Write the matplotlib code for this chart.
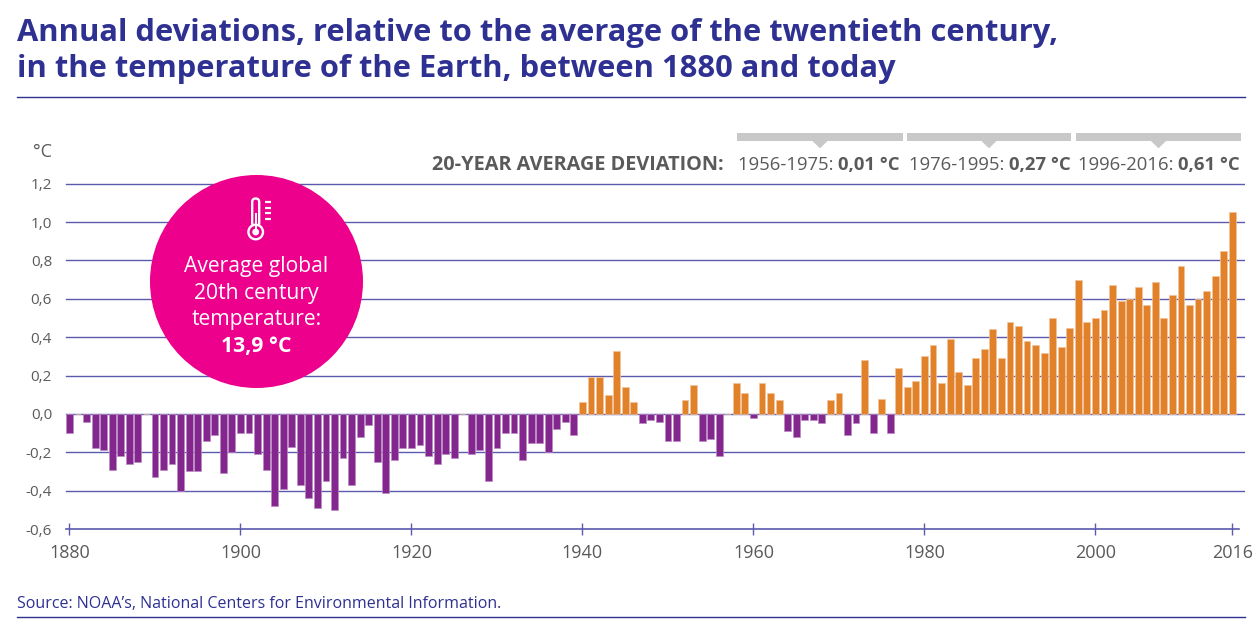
import numpy as np
import matplotlib
matplotlib.use("Agg")
import matplotlib.pyplot as plt
from matplotlib.patches import Circle, Rectangle, Polygon, FancyBboxPatch

plt.rcParams["font.family"] = ["Open Sans", "DejaVu Sans"]

# datos: desviación anual (ºC) respecto a la media del siglo XX
years = list(range(1880, 2017))
dev_1880s = [-0.10, 0.00, -0.04, -0.18, -0.19, -0.29, -0.22, -0.26, -0.25, 0.00]
dev_1890s = [-0.33, -0.29, -0.26, -0.40, -0.30, -0.30, -0.14, -0.11, -0.31, -0.20]
dev_1900s = [-0.10, -0.10, -0.21, -0.29, -0.48, -0.39, -0.17, -0.37, -0.44, -0.49]
dev_1910s = [-0.35, -0.50, -0.23, -0.37, -0.12, -0.06, -0.25, -0.41, -0.24, -0.18]
dev_1920s = [-0.18, -0.16, -0.22, -0.26, -0.21, -0.23, 0.00, -0.21, -0.19, -0.35]
dev_1930s = [-0.18, -0.10, -0.10, -0.24, -0.15, -0.15, -0.20, -0.08, -0.04, -0.11]
dev_1940s = [0.06, 0.19, 0.19, 0.10, 0.33, 0.14, 0.06, -0.05, -0.03, -0.04]
dev_1950s = [-0.14, -0.14, 0.07, 0.15, -0.14, -0.13, -0.22, 0.00, 0.16, 0.11]
dev_1960s = [-0.02, 0.16, 0.11, 0.07, -0.09, -0.12, -0.03, -0.03, -0.05, 0.07]
dev_1970s = [0.11, -0.11, -0.05, 0.28, -0.10, 0.08, -0.10, 0.24, 0.14, 0.17]
dev_1980s = [0.30, 0.36, 0.16, 0.39, 0.22, 0.15, 0.29, 0.34, 0.44, 0.29]
dev_1990s = [0.48, 0.46, 0.38, 0.36, 0.32, 0.50, 0.35, 0.45, 0.70, 0.48]
dev_2000s = [0.50, 0.54, 0.67, 0.59, 0.60, 0.66, 0.57, 0.69, 0.50, 0.62]
dev_2010s = [0.77, 0.57, 0.60, 0.64, 0.72, 0.85, 1.05]

deviation = (dev_1880s + dev_1890s + dev_1900s + dev_1910s + dev_1920s + dev_1930s
             + dev_1940s + dev_1950s + dev_1960s + dev_1970s + dev_1980s + dev_1990s
             + dev_2000s + dev_2010s)

y_ticks = [-0.6, -0.4, -0.2, 0.0, 0.2, 0.4, 0.6, 0.8, 1.0, 1.2]
y_labels = ["-0,6", "-0,4", "-0,2", "0,0", "0,2", "0,4", "0,6", "0,8", "1,0", "1,2"]
x_ticks = [1880, 1900, 1920, 1940, 1960, 1980, 2000, 2016]

periods = ["1956-1975: ", "1976-1995: ", "1996-2016: "]
period_avgs = ["0,01 °C", "0,27 °C", "0,61 °C"]

NAVY = "#2e3192"
GRID = "#5a5aae"
GRAY = "#5a5a5a"
PURPLE = "#83278f"
ORANGE = "#e1812a"
PINK = "#ec008c"

W, H = 1260, 632
fig = plt.figure(figsize=(W / 100, H / 100), dpi=100)

# ejes principales (posición en píxeles)
left_px, right_px, top_px, bot_px = 62, 1245, 175, 545
ax = fig.add_axes([left_px / W, 1 - bot_px / H, (right_px - left_px) / W, (bot_px - top_px) / H])

ax.set_xlim(1879.13, 2017.49)
ax.set_ylim(-0.6834, 1.2454)

for t in y_ticks[1:]:
    ax.axhline(t, xmin=0.0034, xmax=1, color=GRID, lw=1.0, zorder=1)

colors = [ORANGE if v >= 0 else PURPLE for v in deviation]
edges = ["#f2c49a" if v >= 0 else "#b98cc2" for v in deviation]
ax.bar(years, deviation, width=0.8, color=colors, edgecolor=edges, linewidth=0.5, zorder=2)

for s in ["top", "right", "left"]:
    ax.spines[s].set_visible(False)
ax.spines["bottom"].set_position(("data", -0.6))
ax.spines["bottom"].set_bounds(1879.6, 2016.8)
ax.spines["bottom"].set_color(GRID)
ax.spines["bottom"].set_linewidth(1.2)

ax.set_xticks(x_ticks)
ax.set_xticklabels([str(x) for x in x_ticks])
ax.tick_params(axis="x", direction="inout", length=8, width=1, color=GRID,
               labelsize=13, labelcolor=GRAY, pad=7)
ax.set_yticks(y_ticks)
ax.set_yticklabels(y_labels)
ax.tick_params(axis="y", length=0, labelsize=11, labelcolor=GRAY, pad=7.2)
ax.patch.set_visible(False)

# capa de anotaciones en píxeles
ov = fig.add_axes([0, 0, 1, 1], zorder=5)
ov.set_xlim(0, W)
ov.set_ylim(H, 0)
ov.axis("off")
ov.patch.set_visible(False)

ov.text(17, 41, "Annual deviations, relative to the average of the twentieth century,",
        fontsize=22.2, fontweight="bold", color=NAVY, va="baseline")
ov.text(17, 77.5, "in the temperature of the Earth, between 1880 and today",
        fontsize=22.2, fontweight="bold", color=NAVY, va="baseline")
ov.plot([17, 1245], [96.5, 96.5], color=NAVY, lw=1)
ov.plot([17, 1245], [616.7, 616.7], color=NAVY, lw=1)
ov.text(17, 608, "Source: NOAA\u2019s, National Centers for Environmental Information.",
        fontsize=11.5, color=NAVY, va="baseline")

ov.text(52, 157, "°C", fontsize=13, color=GRAY, ha="right", va="baseline")

# cabecera de medias de 20 años
ov.text(724, 170, "20-YEAR AVERAGE DEVIATION:", fontsize=14.3, fontweight="bold",
        color=GRAY, ha="right", va="baseline")

brackets = [(737, 903), (907, 1071), (1076, 1241)]
text_x = [738, 909, 1078]
fig.canvas.draw()
renderer = fig.canvas.get_renderer()
for (x0, x1), tx, per, avg in zip(brackets, text_x, periods, period_avgs):
    ov.add_patch(Rectangle((x0, 133.3), x1 - x0, 7.4, color="#c8c8c8", lw=0))
    xc = (x0 + x1) / 2
    ov.add_patch(Polygon([[xc - 8, 140.6], [xc + 8, 140.6], [xc, 148.3]], color="#c8c8c8", lw=0))
    t1 = ov.text(tx, 170, per, fontsize=13.3, color=GRAY, va="baseline")
    bb = t1.get_window_extent(renderer)
    ov.text(bb.x1, H - 170, avg, fontsize=13.3, fontweight="bold", color=GRAY,
            va="baseline", transform=None)

# círculo de la temperatura media
cx, cy = 256.5, 281.5
ov.add_patch(Circle((cx, cy), 106.5, color=PINK, lw=0))
for txt, yb, fw in [("Average global", 272.3, "normal"), ("20th century", 298.7, "normal"),
                    ("temperature:", 325, "normal"), ("13,9 °C", 351.7, "bold")]:
    ov.text(cx, yb, txt, fontsize=15.2, color="white", ha="center", va="baseline", fontweight=fw)

# termómetro
ov.add_patch(FancyBboxPatch((252.2, 198.5), 7.0, 28, boxstyle="round,pad=0,rounding_size=3.5",
                            fc="none", ec="white", lw=1.7))
ov.add_patch(Circle((255.7, 232), 7.3, fc=PINK, ec="white", lw=1.7))
ov.add_patch(Rectangle((254.6, 213), 2.2, 18, color="white", lw=0))
ov.add_patch(Circle((255.7, 232), 3.4, color="white", lw=0))
for ty in [202, 207.5, 213, 218.5]:
    ov.plot([264.5, 271], [ty, ty], color="white", lw=1.6, solid_capstyle="butt")

fig.savefig("out.png", dpi=100)
